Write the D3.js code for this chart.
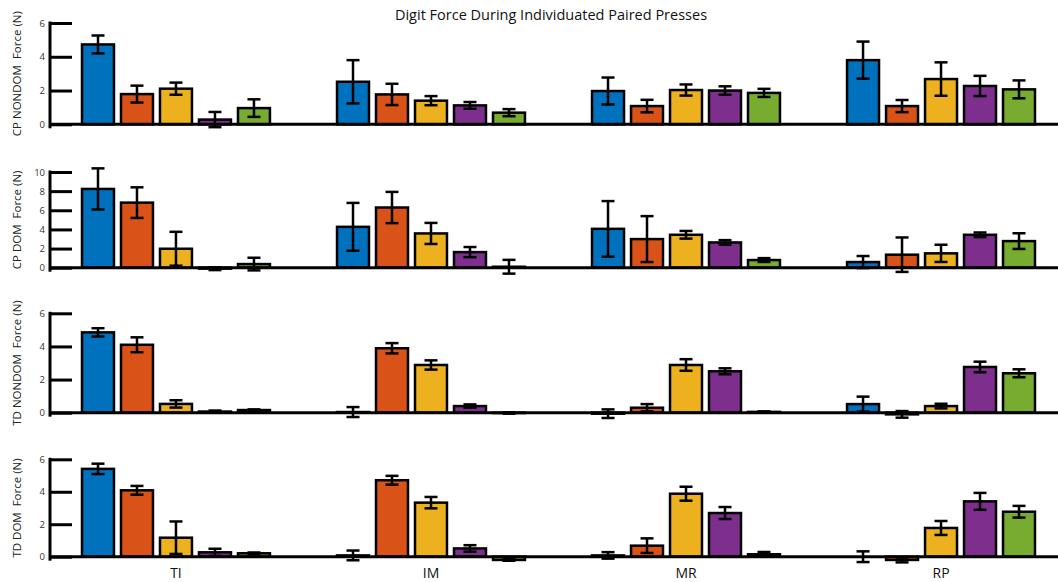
<!DOCTYPE html>
<html>
<head>
<meta charset="utf-8">
<script src="https://cdn.jsdelivr.net/npm/d3@7"></script>
<style>
  body { margin: 0; background: #fff; }
  .chart text { font-family: "Open Sans", "DejaVu Sans", sans-serif; }
  .tick text { fill: #333; font-size: 9.5px; }
</style>
</head>
<body>
<div class="chart"></div>
<script>
var svgWidth = 1058;
var svgHeight = 582;

// categories along the x axis and the five presses in each group
var categories = ["TI", "IM", "MR", "RP"];
var seriesKeys = ["s1", "s2", "s3", "s4", "s5"];
var seriesColors = ["#0072BD", "#D95319", "#EDB120", "#7E2F8E", "#77AC30"];

// panel labels and y tick values
var panelLabels = ["CP NONDOM  Force (N)", "CP DOM  Force (N)", "TD NONDOM  Force (N)", "TD DOM  Force (N)"];
var panelTicks = [[0, 2, 4, 6], [0, 2, 4, 6, 8, 10], [0, 2, 4, 6], [0, 2, 4, 6]];

// means, one row per category (TI, IM, MR, RP), five bars each
var cpNondomMean = [
  [4.73, 1.79, 2.11, 0.28, 0.96],
  [2.52, 1.77, 1.40, 1.12, 0.69],
  [1.97, 1.08, 2.03, 2.00, 1.86],
  [3.80, 1.08, 2.68, 2.27, 2.07]
];
var cpNondomErr = [
  [0.53, 0.50, 0.36, 0.45, 0.52],
  [1.28, 0.63, 0.27, 0.20, 0.21],
  [0.80, 0.37, 0.33, 0.25, 0.24],
  [1.10, 0.36, 0.99, 0.60, 0.53]
];

var cpDomMean = [
  [8.23, 6.80, 1.98, -0.10, 0.38],
  [4.27, 6.29, 3.58, 1.63, 0.10],
  [4.06, 2.99, 3.44, 2.64, 0.80],
  [0.59, 1.36, 1.50, 3.44, 2.78]
];
var cpDomErr = [
  [2.15, 1.60, 1.77, 0.15, 0.66],
  [2.50, 1.63, 1.10, 0.53, 0.72],
  [2.90, 2.40, 0.40, 0.24, 0.20],
  [0.63, 1.80, 0.90, 0.24, 0.82]
];

var tdNondomMean = [
  [4.85, 4.10, 0.53, 0.07, 0.16],
  [0.04, 3.89, 2.88, 0.40, -0.02],
  [-0.06, 0.30, 2.88, 2.50, 0.05],
  [0.52, -0.10, 0.40, 2.76, 2.38]
];
var tdNondomErr = [
  [0.25, 0.45, 0.22, 0.06, 0.04],
  [0.30, 0.31, 0.28, 0.10, 0.04],
  [0.26, 0.22, 0.35, 0.18, 0.03],
  [0.45, 0.20, 0.14, 0.32, 0.24]
];

var tdDomMean = [
  [5.41, 4.09, 1.17, 0.27, 0.21],
  [0.08, 4.71, 3.33, 0.51, -0.20],
  [0.08, 0.68, 3.88, 2.69, 0.15],
  [0.00, -0.20, 1.77, 3.41, 2.77]
];
var tdDomErr = [
  [0.32, 0.27, 1.00, 0.22, 0.05],
  [0.30, 0.27, 0.35, 0.20, 0.05],
  [0.20, 0.45, 0.43, 0.37, 0.14],
  [0.33, 0.15, 0.43, 0.52, 0.36]
];

var panelMeans = [cpNondomMean, cpDomMean, tdNondomMean, tdDomMean];
var panelErrs = [cpNondomErr, cpDomErr, tdNondomErr, tdDomErr];

// pixel extent of each panel's y axis (zero line, top tick)
var panelRanges = [[124.3, 23], [267.7, 172], [412.7, 313.3], [556.7, 459.3]];

var axisX = 50;

var svg = d3.select(".chart")
  .append("svg")
  .attr("width", svgWidth)
  .attr("height", svgHeight);

// group and bar positions
var x0 = d3.scaleBand()
  .domain(categories)
  .range([82, 1035])
  .paddingInner(0.263)
  .paddingOuter(0);

var x1 = d3.scaleBand()
  .domain(seriesKeys)
  .range([0, x0.bandwidth()])
  .paddingInner(0.18)
  .paddingOuter(0);

var color = d3.scaleOrdinal().domain(seriesKeys).range(seriesColors);

// title
svg.append("text")
  .attr("x", 551)
  .attr("y", 20)
  .attr("text-anchor", "middle")
  .style("font-size", "14.5px")
  .style("fill", "#111")
  .text("Digit Force During Individuated Paired Presses");

panelMeans.forEach(function(means, p) {
  var ticks = panelTicks[p];
  var yScale = d3.scaleLinear()
    .domain([0, d3.max(ticks)])
    .range(panelRanges[p]);

  var g = svg.append("g");

  // flatten rows into bar records
  var bars = [];
  categories.forEach(function(cat, i) {
    seriesKeys.forEach(function(key, j) {
      bars.push({ cat: cat, key: key, mean: means[i][j], err: panelErrs[p][i][j] });
    });
  });

  // y axis with inside ticks
  var leftAxis = d3.axisLeft(yScale)
    .tickValues(ticks)
    .tickFormat(d3.format("d"))
    .tickSizeInner(-22)
    .tickSizeOuter(0)
    .tickPadding(5);

  var yAxis = g.append("g")
    .attr("transform", `translate(${axisX}, 0)`)
    .call(leftAxis);
  yAxis.select(".domain").remove();
  yAxis.selectAll(".tick line")
    .attr("stroke", "#000")
    .attr("stroke-width", 3);

  g.append("line")
    .attr("x1", axisX)
    .attr("x2", axisX)
    .attr("y1", yScale(d3.max(ticks)) - 1.5)
    .attr("y2", yScale(0) + 4)
    .attr("stroke", "#000")
    .attr("stroke-width", 3);

  // bars
  g.selectAll("rect.bar")
    .data(bars)
    .enter()
    .append("rect")
    .attr("class", "bar")
    .attr("x", d => x0(d.cat) + x1(d.key))
    .attr("y", d => yScale(Math.max(0, d.mean)))
    .attr("width", x1.bandwidth())
    .attr("height", d => Math.abs(yScale(d.mean) - yScale(0)))
    .attr("fill", d => color(d.key))
    .attr("stroke", "#000")
    .attr("stroke-width", 2.5);

  // zero line across the panel
  g.append("line")
    .attr("x1", axisX)
    .attr("x2", svgWidth)
    .attr("y1", yScale(0))
    .attr("y2", yScale(0))
    .attr("stroke", "#000")
    .attr("stroke-width", 3);

  // error bars
  var errGroup = g.selectAll("g.err")
    .data(bars)
    .enter()
    .append("g")
    .attr("class", "err")
    .attr("transform", d => `translate(${x0(d.cat) + x1(d.key) + x1.bandwidth() / 2}, 0)`);

  errGroup.append("line")
    .attr("x1", 0).attr("x2", 0)
    .attr("y1", d => yScale(d.mean + d.err))
    .attr("y2", d => yScale(d.mean - d.err));

  errGroup.append("line")
    .attr("x1", -6.5).attr("x2", 6.5)
    .attr("y1", d => yScale(d.mean + d.err))
    .attr("y2", d => yScale(d.mean + d.err));

  errGroup.append("line")
    .attr("x1", -6.5).attr("x2", 6.5)
    .attr("y1", d => yScale(d.mean - d.err))
    .attr("y2", d => yScale(d.mean - d.err));

  errGroup.selectAll("line")
    .attr("stroke", "#000")
    .attr("stroke-width", 2.5);

  // rotated y label
  var yMid = (panelRanges[p][0] + panelRanges[p][1]) / 2;
  g.append("text")
    .attr("transform", `translate(21, ${yMid}) rotate(-90)`)
    .attr("text-anchor", "middle")
    .style("font-size", "11.5px")
    .style("white-space", "pre")
    .style("fill", "#222")
    .text(panelLabels[p]);
});

// category labels under the last panel
svg.selectAll("text.cat")
  .data(categories)
  .enter()
  .append("text")
  .attr("class", "cat")
  .attr("x", d => x0(d) + x0.bandwidth() / 2)
  .attr("y", 578)
  .attr("text-anchor", "middle")
  .style("font-size", "14px")
  .style("fill", "#111")
  .text(d => d);
</script>
</body>
</html>
